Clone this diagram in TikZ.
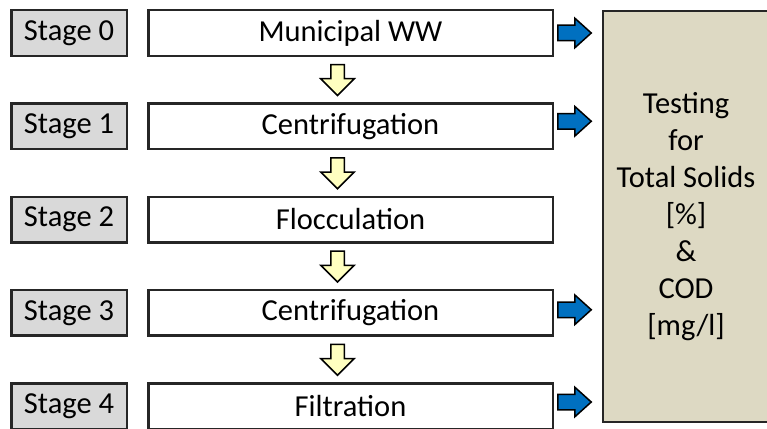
\documentclass[tikz,border=0pt]{standalone}
\usepackage{fontspec}
\setmainfont{Carlito}
\usetikzlibrary{positioning,shapes.arrows}
\definecolor{stagegray}{HTML}{D9D9D9}
\definecolor{testtan}{HTML}{DDD9C3}
\definecolor{outblue}{HTML}{0070C0}
\definecolor{flowyellow}{HTML}{FFFFC0}

\begin{document}
\begin{tikzpicture}[x=1pt,y=1pt]
	\tikzstyle{box} = [draw=black!85, line width=2.5pt, rectangle, minimum height=45.5pt, inner sep=0pt, font=\fontsize{30.5}{37}\selectfont]
	\tikzstyle{stage} = [box, fill=stagegray, minimum width=115.5pt]
	\tikzstyle{process} = [box, fill=white, minimum width=404.5pt]
	\tikzstyle{testarrow} = [single arrow, draw=black, line width=1.5pt, fill=outblue, minimum height=33.5pt, inner sep=7pt, single arrow head extend=7pt, single arrow tip angle=84]
	\tikzstyle{flowarrow} = [single arrow, shape border rotate=270, draw=black, line width=1.5pt, fill=flowyellow, minimum height=31pt, inner sep=6pt, single arrow head extend=10pt]

	\useasboundingbox (0,0) rectangle (767,-428);

	\node [stage] (stage0) at (69,-33) {Stage 0};
	\node [stage, below = 45.25pt of stage0] (stage1) {Stage 1};
	\node [stage, below = 45.25pt of stage1] (stage2) {Stage 2};
	\node [stage, below = 45.25pt of stage2] (stage3) {Stage 3};
	\node [stage, below = 45.25pt of stage3] (stage4) {Stage 4};

	\node [process, right = 19pt of stage0] (proc0) {Municipal WW};
	\node [process, right = 19pt of stage1] (proc1) {Centrifugation};
	\node [process, right = 19pt of stage2] (proc2) {Flocculation};
	\node [process, right = 19pt of stage3] (proc3) {Centrifugation};
	\node [process, right = 19pt of stage4] (proc4) {Filtration};

	\node [flowarrow, below = 6.75pt of proc0, xshift=-13pt] (down0) {};
	\node [flowarrow, below = 6.75pt of proc1, xshift=-13pt] (down1) {};
	\node [flowarrow, below = 6.75pt of proc2, xshift=-13pt] (down2) {};
	\node [flowarrow, below = 6.75pt of proc3, xshift=-13pt] (down3) {};

	\node [testarrow, right = 3pt of proc0] (out0) {};
	\node [testarrow, right = 3pt of proc1, yshift=5pt] (out1) {};
	\node [testarrow, right = 3pt of proc3, yshift=3pt] (out3) {};
	\node [testarrow, right = 3pt of proc4, yshift=4pt] (out4) {};

	\node [box, fill=testtan, minimum width=166pt, minimum height=410.5pt, align=center] (testing) at (686,-216.5) {Testing\\for\\Total Solids\\{[\%]}\\\&\\COD\\{[mg/l]}};

\end{tikzpicture}
\end{document}
